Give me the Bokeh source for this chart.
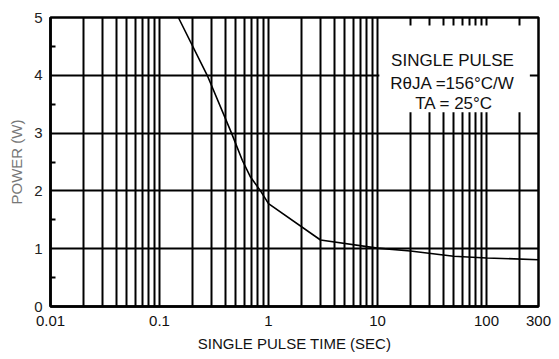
from bokeh.plotting import figure
from bokeh.models import Range1d, FixedTicker
from bokeh.core.properties import value
from bokeh.embed import file_html
from bokeh.resources import INLINE

# ---- data ----
pulse_time = [0.149, 0.274, 0.458, 0.575, 0.684, 0.845, 1.0, 3.0, 10.0, 20.0, 50.0, 100.0, 300.0]
power_w = [5.0, 4.0, 3.0, 2.53, 2.24, 2.0, 1.78, 1.15, 1.01, 0.96, 0.87, 0.84, 0.81]

x_tick_values = [0.01, 0.1, 1, 10, 100, 300]
x_tick_labels = ["0.01", "0.1", "1", "10", "100", "300"]
y_tick_values = [0, 1, 2, 3, 4, 5]
y_minor_values = [0.5, 1.5, 2.5, 3.5, 4.5]
x_grid_values = [m * d for d in (0.01, 0.1, 1, 10, 100) for m in range(1, 10)] + [200]
x_grid_values = [v for v in x_grid_values if 0.01 < v < 300]
y_grid_values = [1, 2, 3, 4]

box_lines = ["SINGLE PULSE", "RθJA =156°C/W", "TA = 25°C"]

FONT = "Liberation Sans"

p = figure(width=559, height=359, x_axis_type="log",
           x_range=Range1d(0.01, 300), y_range=Range1d(0, 5),
           output_backend="svg", toolbar_location=None,
           min_border_left=50, min_border_right=21,
           min_border_top=17, min_border_bottom=53)
p.background_fill_color = "white"
p.border_fill_color = "white"
p.outline_line_color = "black"
p.outline_line_width = 2.5

# grids
p.xgrid.ticker = FixedTicker(ticks=x_grid_values)
p.ygrid.ticker = FixedTicker(ticks=y_grid_values)
for g in (p.xgrid, p.ygrid):
    g.grid_line_color = "black"
    g.grid_line_width = 2
    g.grid_line_alpha = 1.0

# x axis
xa = p.xaxis[0]
xa.ticker = FixedTicker(ticks=x_tick_values, minor_ticks=[])
xa.major_label_overrides = {v: l for v, l in zip(x_tick_values, x_tick_labels)}
xa.major_tick_out = 0
xa.major_tick_in = 0
xa.minor_tick_out = 0
xa.minor_tick_in = 0
xa.axis_line_width = 2.5
xa.axis_line_color = "black"
xa.major_label_text_font = FONT
xa.major_label_text_font_size = "15px"
xa.major_label_text_color = "#111111"
xa.major_label_standoff = 9
xa.axis_label = "SINGLE PULSE TIME (SEC)"
xa.axis_label_text_font = FONT
xa.axis_label_text_font_size = "15px"
xa.axis_label_text_font_style = "normal"
xa.axis_label_text_color = "#111111"
xa.axis_label_standoff = 6

# y axis
ya = p.yaxis[0]
ya.ticker = FixedTicker(ticks=y_tick_values, minor_ticks=y_minor_values)
ya.major_tick_out = 0
ya.major_tick_in = 0
ya.minor_tick_out = 0
ya.minor_tick_in = 5
ya.minor_tick_line_width = 2
ya.minor_tick_line_color = "black"
ya.axis_line_width = 2.5
ya.axis_line_color = "black"
ya.major_label_text_font = FONT
ya.major_label_text_font_size = "15px"
ya.major_label_text_color = "#222222"
ya.major_label_standoff = 8
ya.axis_label = "POWER (W)"
ya.axis_label_text_font = FONT
ya.axis_label_text_font_size = "15px"
ya.axis_label_text_font_style = "normal"
ya.axis_label_text_color = "#777777"
ya.axis_label_standoff = 6

# curve
p.line(pulse_time, power_w, line_color="black", line_width=1.6)

# info box
p.quad(left=[10.4], right=[250], bottom=[3.36], top=[4.86],
       fill_color="white", line_color=None)
p.text(x=[48.8, 48.8, 50.5], y=[4.26, 3.86, 3.51], text=box_lines,
       text_font=value(FONT), text_font_size="17px", text_color="#111111",
       text_align="center", text_baseline="middle")

open("out.html", "w").write(file_html(p, INLINE))
